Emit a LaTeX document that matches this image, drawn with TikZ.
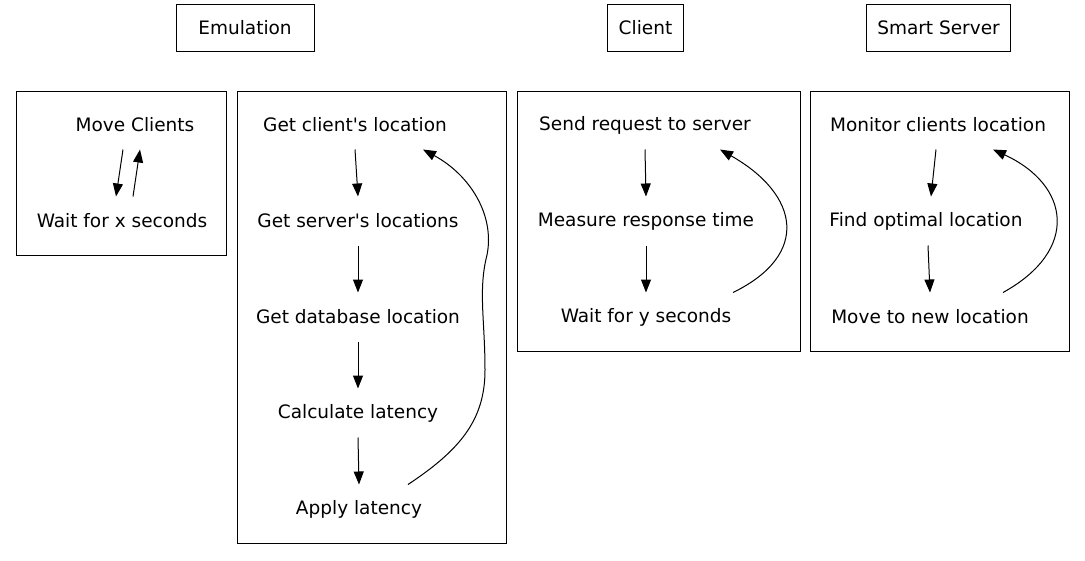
\documentclass[tikz,border=0pt]{standalone}
\usepackage{fontspec}
\setmainfont{DejaVu Sans}
\usetikzlibrary{arrows.meta,positioning,calc}

\tikzset{
  every step/.style={minimum height=48pt, inner sep=0pt, font=\fontsize{18.5}{22}\selectfont},
  group/.style={draw, minimum height=47pt, inner xsep=11pt, font=\fontsize{18.5}{22}\selectfont},
  cluster/.style={draw},
}

\begin{document}
\begin{tikzpicture}[x=1pt, y=-1pt, >={Triangle[length=13pt,width=10pt]}, line width=1pt]
\useasboundingbox (0,0) rectangle (1085,560);

% group titles
\node [group, minimum width=138pt] (emulation) at (245,28) {Emulation};
\node [group, minimum width=75pt] (client) at (645.5,28) {Client};
\node [group] (server) at (938.5,28) {Smart Server};

% clusters
\draw [cluster] (16,91) rectangle (226,255);
\draw [cluster] (237,91) rectangle (506,543);
\draw [cluster] (517,91) rectangle (800,351);
\draw [cluster] (810,91) rectangle (1069,351);

% emulation
\node [every step] (move) at (135,125) {Move Clients};
\node [every step] (waitx) at (122,221) {Wait for x seconds};

\draw [->] ([xshift=-12pt]move.south) -- ([xshift=-6pt]waitx.north);
\draw [->] ([xshift=11pt]waitx.north) -- ([xshift=5pt]move.south);

\foreach \x/\m/\l [count=\i] in {355/cloc/Get client\textquotesingle s location, 358/sloc/Get server\textquotesingle s locations,
    358/dbloc/Get database location, 358/lat/Calculate latency, 359/apply/Apply latency}
  \node [every step] (\m) at (\x,29+96*\i) {\l};

\foreach \a/\b in {cloc/sloc, sloc/dbloc, dbloc/lat, lat/apply}
  \draw [->] (\a.south) -- (\b.north);

\draw [->] ([xshift=49pt]apply.north) .. controls (460,450) and (485,420) .. (485,370)
  .. controls (485,320) and (478,290) .. (487,255)
  .. controls (495,215) and (470,175) .. ([xshift=68pt]cloc.south);

% client
\node [every step] (send) at (645,125) {Send request to server};
\node [every step] (measure) at (646,221) {Measure response time};
\node [every step] (waity) at (646,317) {Wait for y seconds};

\draw [->] (send.south) -- (measure.north);
\draw [->] (measure.south) -- (waity.north);
\draw [->] ([xshift=87pt]waity.north) .. controls (810,255) and (800,195) .. ([xshift=75pt]send.south);

% smart server
\node [every step] (monitor) at (938,125) {Monitor clients location};
\node [every step] (find) at (926,221) {Find optimal location};
\node [every step] (movenew) at (930,317) {Move to new location};

\draw [->] ([xshift=-2pt]monitor.south) -- ([xshift=5pt]find.north);
\draw [->] ([xshift=2pt]find.south) -- (movenew.north);
\draw [->] ([xshift=73pt]movenew.north) .. controls (1080,250) and (1070,185) .. ([xshift=55pt]monitor.south);

\end{tikzpicture}
\end{document}
